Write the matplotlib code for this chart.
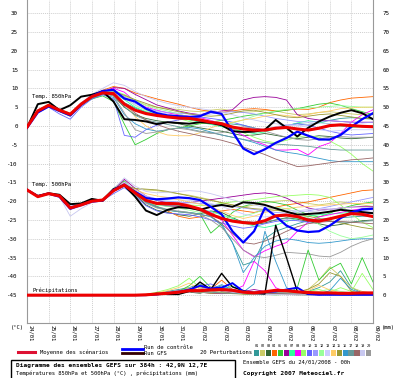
import numpy as np
import matplotlib
matplotlib.use("Agg")
import matplotlib.pyplot as plt
import matplotlib.transforms as mtransforms
from matplotlib.lines import Line2D
from matplotlib.patches import Rectangle

## echeances toutes les 12h, en jours depuis le 24/01 00h
days = np.arange(0, 16.5, 0.5)
date_labels = ["24/01", "25/01", "26/01", "27/01", "28/01", "29/01", "30/01", "31/01",
               "01/02", "02/02", "03/02", "04/02", "05/02", "06/02", "07/02", "08/02", "09/02"]
left_ticks = [30, 25, 20, 15, 10, 5, 0, -5, -10, -15, -20, -25, -30, -35, -40, -45]
right_ticks = [75, 70, 65, 60, 55, 50, 45, 40, 35, 30, 25, 20, 15, 10, 5, 0]

member_colors = ["#339999", "#cccc66", "#336633", "#ff6600", "#33cc33", "#990099", "#33ff99",
                 "#ff00ff", "#99ff66", "#6666ff", "#9999ff", "#99ff99", "#ccccff", "#ffcc66",
                 "#999933", "#3399cc", "#669999", "#996666", "#c8c8f0", "#999999"]

## moyenne, controle, GFS
mean_850 = [-0.3, 4.0, 5.5, 4.2, 3.1, 5.8, 7.8, 8.8, 8.6, 5.8, 4.2, 3.3, 2.8, 2.4, 2.1, 2.0, 1.6,
            1.0, 0.6, -0.3, -0.8, -1.1, -1.1, -0.6, -0.4, -0.8, -1.1, -0.6, 0.1, 0.3, 0.1, -0.1, -0.2]
ctrl_850 = [-0.5, 3.6, 5.2, 4.0, 2.8, 5.6, 7.9, 9.3, 9.6, 7.3, 6.5, 4.6, 3.4, 2.8, 2.6, 2.4, 2.6,
            3.8, 3.2, -1.5, -6.0, -7.5, -6.2, -4.5, -3.2, -1.5, -2.6, -3.6, -3.6, -2.4, -0.2, 1.8, 3.4]
gfs_850 = [-0.5, 5.8, 6.4, 4.2, 5.5, 7.8, 8.3, 9.2, 6.5, 1.8, 1.6, 1.2, 0.5, 1.0, 0.8, 0.6, 1.0,
           0.8, 0.2, -1.4, -1.6, -1.5, -1.0, 1.6, -0.5, -2.8, -0.5, 1.2, 2.5, 3.5, 4.2, 3.4, 1.8]

mean_500 = [-17.0, -18.8, -18.0, -18.6, -21.8, -21.0, -20.0, -19.7, -17.2, -15.7, -17.8, -19.8,
            -20.6, -20.6, -20.7, -21.3, -22.1, -23.5, -24.6, -25.3, -25.7, -25.9, -25.2, -23.9,
            -23.7, -24.1, -25.0, -25.3, -24.7, -24.0, -23.3, -23.5, -24.1]
ctrl_500 = [-17.0, -18.7, -18.0, -18.8, -22.0, -21.0, -20.1, -19.8, -17.0, -15.6, -17.5, -19.2,
            -19.5, -19.3, -19.0, -19.2, -19.7, -21.5, -23.5, -28.0, -31.0, -28.0, -21.8, -24.0,
            -26.5, -27.8, -28.2, -28.0, -26.5, -24.5, -23.0, -22.2, -22.0]
gfs_500 = [-17.0, -18.6, -17.9, -18.3, -20.8, -20.6, -19.4, -19.9, -16.8, -15.8, -18.8, -22.5,
           -23.7, -22.3, -21.6, -21.8, -22.3, -21.5, -21.0, -21.5, -20.3, -20.5, -21.0, -21.9,
           -22.8, -23.6, -23.4, -23.2, -22.8, -22.3, -22.6, -22.9, -23.2]

mean_rr = [0, 0, 0, 0, 0, 0, 0, 0, 0, 0, 0, 0.1, 0.3, 0.5, 0.8, 1.2, 1.2,
           1.4, 1.5, 1.3, 0.8, 0.6, 0.9, 1.3, 1.2, 0.9, 0.7, 0.6, 0.6, 0.5, 0.5, 0.6, 0.6]
ctrl_rr = [0, 0, 0, 0, 0, 0, 0, 0, 0, 0, 0, 0, 0.2, 0.5, 0.8, 1.5, 2.5,
           1.8, 2.0, 3.2, 1.0, 0.6, 0.8, 1.0, 1.5, 2.0, 0.3, 0.1, 0.1, 0.1, 0.1, 0.1, 0.1]
gfs_rr = [0, 0, 0, 0, 0, 0, 0, 0, 0, 0, 0, 0, 0.5, 0.2, 0.2, 1.0, 3.5,
          1.5, 5.8, 2.2, 1.2, 0.5, 0.3, 18.6, 10.0, 1.0, 0.3, 0.2, 0.3, 0.2, 0.2, 0.3, 0.3]

## 20 perturbations
t850_members = [
    [-0.4, 3.9, 5.4, 4.0, 3.0, 5.6, 7.6, 8.6, 8.4, 6.2, 4.8, 3.6, 3.0, 2.6, 2.2, 1.8, 1.4, 1.2, 0.8, 0.5, 0.2, -0.5, -1.2, -0.8, 0.2, 0.6, 0.4, 0.8, 1.5, 2.0, 2.2, 2.0, 1.8],
    [-0.2, 4.2, 5.8, 4.5, 3.4, 6.0, 8.0, 9.2, 9.6, 8.0, 6.8, 5.6, 5.0, 4.6, 4.4, 4.0, 3.8, 4.2, 4.5, 4.0, 3.6, 3.8, 4.2, 4.0, 3.4, 3.0, 3.2, 3.6, 3.8, 3.5, 3.2, 3.0, 3.0],
    [-0.3, 3.8, 5.3, 4.1, 3.0, 5.7, 7.9, 8.9, 8.0, 5.0, 3.0, 2.0, 1.4, 1.0, 0.6, 0.0, -0.5, -1.0, -1.4, -2.0, -2.6, -2.4, -2.0, -2.5, -3.0, -3.4, -3.0, -2.6, -2.8, -3.2, -3.4, -3.2, -3.0],
    [-0.3, 4.1, 5.6, 4.4, 3.3, 6.0, 8.2, 9.5, 10.5, 10.0, 8.8, 8.0, 7.2, 6.5, 5.8, 5.0, 4.3, 3.8, 3.6, 4.0, 4.4, 4.6, 4.4, 4.0, 4.2, 4.5, 4.4, 5.0, 6.2, 6.9, 7.4, 7.6, 7.8],
    [-0.2, 4.0, 5.5, 4.3, 3.2, 5.6, 7.2, 8.0, 6.5, 0.5, -5.0, -3.6, -2.0, -1.0, -0.5, 0.0, 0.6, 1.0, 1.5, 2.0, 2.6, 3.0, 3.4, 3.8, 4.2, 4.6, 5.2, 5.8, 6.1, 5.5, 4.6, 3.8, 3.0],
    [-0.4, 3.9, 5.4, 4.2, 3.0, 5.8, 7.8, 9.0, 10.2, 10.0, 8.4, 7.0, 5.6, 4.8, 4.0, 3.4, 3.0, 3.6, 4.0, 4.3, 6.9, 7.6, 7.8, 7.6, 6.9, 3.0, 2.0, 1.6, 1.4, 1.2, 1.0, 1.0, 1.0],
    [-0.3, 4.0, 5.5, 4.3, 3.1, 5.7, 7.7, 8.7, 8.9, 7.0, 5.0, 3.8, 3.2, 2.8, 2.2, 1.6, 1.0, 0.4, -0.2, -0.8, -1.5, -2.0, -1.6, -0.8, 0.0, 0.8, 1.4, 1.0, 0.5, 0.0, -0.4, -0.2, 0.0],
    [-0.3, 4.0, 5.4, 4.1, 3.0, 5.8, 7.9, 9.0, 10.0, 9.0, 6.5, 5.0, 4.2, 3.5, 3.0, 2.6, 2.2, 1.5, 0.5, -1.0, -2.5, -4.0, -5.0, -6.4, -6.4, -6.2, -7.7, -5.5, -4.5, -2.0, 1.0, 3.0, 4.3],
    [-0.2, 4.1, 5.6, 4.2, 3.2, 5.9, 8.0, 9.0, 9.2, 7.5, 5.5, 4.2, 3.4, 2.6, 2.0, 1.2, 0.6, 0.8, 0.2, -0.6, -1.8, -3.0, -4.0, -4.5, -3.8, -3.0, -2.5, -3.0, -4.0, -5.5, -7.5, -10.0, -12.0],
    [-0.6, 3.5, 5.0, 3.2, 1.8, 5.0, 7.2, 8.3, 7.2, -2.5, -3.0, -1.0, 0.2, 1.0, 1.6, 2.0, 2.4, 2.0, 1.6, 1.0, 0.2, -0.6, -1.0, -0.6, 0.2, 0.6, 0.2, -0.6, -1.4, -2.0, -2.4, -2.2, -2.0],
    [-0.3, 3.9, 5.4, 4.0, 2.9, 5.6, 7.7, 8.8, 9.0, 7.8, 6.0, 4.8, 4.0, 3.6, 3.4, 3.2, 3.0, 3.2, 3.6, 3.8, 3.6, 3.2, 2.6, 2.0, 1.6, 1.2, 1.0, 1.2, 1.4, 1.2, 1.0, 0.8, 1.0],
    [-0.3, 4.0, 5.5, 4.3, 3.2, 5.9, 7.9, 8.9, 9.4, 8.4, 6.8, 5.4, 4.6, 4.0, 3.2, 2.4, 1.6, 1.0, 0.6, 0.8, 1.6, 2.6, 3.4, 4.0, 4.4, 4.6, 4.8, 5.0, 5.2, 5.4, 5.2, 5.0, 5.0],
    [-0.3, 3.9, 5.4, 4.2, 3.1, 5.8, 7.8, 8.8, 8.8, 7.4, 5.6, 4.4, 3.8, 3.2, 2.6, 2.2, 1.8, 1.4, 0.8, 0.0, -0.8, -1.2, -0.8, -0.2, 0.4, 0.2, -0.4, -1.0, -1.4, -1.2, -1.0, -1.0, -1.0],
    [-0.3, 4.0, 5.5, 4.2, 3.0, 5.7, 7.8, 8.8, 8.6, 6.0, 2.5, 0.0, -1.5, -2.4, -2.6, -2.6, -1.8, -0.5, 0.4, 1.0, 1.6, 2.0, 2.6, 3.0, 2.8, 2.4, 3.0, 3.6, 4.0, 4.6, 4.8, 5.0, 5.0],
    [-0.4, 3.9, 5.4, 4.1, 3.0, 5.6, 7.6, 8.6, 9.0, 8.2, 7.0, 6.0, 5.0, 4.4, 3.8, 3.2, 2.8, 2.6, 2.8, 3.4, 4.0, 4.2, 3.6, 3.0, 2.4, 2.2, 2.6, 3.0, 3.2, 2.8, 2.4, 2.0, 2.0],
    [-0.5, 3.7, 5.2, 3.8, 2.6, 5.4, 7.4, 8.4, 7.6, 3.0, 0.6, -0.8, -1.4, -1.0, -0.6, -0.4, -0.8, -1.6, -2.4, -3.0, -3.6, -4.4, -5.4, -6.4, -7.0, -7.4, -8.0, -8.6, -9.2, -9.5, -9.5, -9.5, -9.5],
    [-0.3, 3.9, 5.4, 4.1, 3.0, 5.7, 7.7, 8.7, 8.2, 5.2, 2.8, 1.6, 1.0, 0.4, -0.2, -0.8, -1.4, -1.8, -2.4, -3.0, -3.6, -4.0, -4.4, -4.8, -5.0, -5.2, -5.4, -5.8, -6.2, -6.4, -6.4, -6.4, -6.4],
    [-0.3, 4.0, 5.5, 4.2, 3.1, 5.8, 7.8, 8.8, 8.4, 5.8, 3.4, 1.6, 0.4, -0.6, -1.4, -2.0, -2.6, -3.2, -3.8, -4.6, -5.6, -6.6, -7.6, -8.8, -9.8, -10.8, -10.6, -10.2, -9.8, -9.4, -9.0, -8.8, -8.5],
    [-0.3, 4.1, 5.6, 4.4, 3.3, 6.1, 8.4, 10.0, 11.5, 10.8, 9.2, 7.8, 6.8, 6.0, 5.4, 5.0, 4.6, 4.2, 3.6, 3.0, 2.2, 1.6, 1.0, 0.6, 0.2, 0.0, 0.4, 0.8, 0.6, 0.2, 0.0, 0.0, 0.0],
    [-0.4, 3.8, 5.3, 4.0, 2.9, 5.6, 7.6, 8.6, 8.0, 3.5, -1.0, -2.0, -1.6, -1.0, -0.6, -1.0, -1.6, -2.0, -1.8, -1.0, -0.2, -0.6, -1.4, -2.2, -3.0, -3.6, -3.8, -3.4, -3.0, -2.8, -3.0, -3.0, -3.0],
]

t500_members = [
    [-17.0, -18.7, -18.1, -18.5, -21.6, -21.2, -20.2, -19.6, -17.0, -15.4, -17.6, -19.8, -20.8, -21.4, -21.2, -21.6, -22.4, -24.0, -26.5, -31.0, -37.0, -36.0, -30.0, -28.0, -27.0, -26.0, -25.2, -24.8, -24.6, -24.4, -24.2, -24.0, -24.0],
    [-17.0, -18.9, -17.9, -18.6, -21.7, -20.8, -19.8, -19.6, -17.0, -15.8, -16.8, -17.0, -17.2, -17.6, -18.0, -18.4, -19.0, -19.6, -20.4, -21.0, -21.6, -21.0, -20.4, -20.0, -19.8, -20.2, -20.6, -21.0, -20.6, -20.2, -20.6, -21.0, -21.4],
    [-17.0, -18.8, -18.0, -18.7, -22.0, -21.2, -20.2, -19.8, -17.4, -16.0, -18.2, -21.0, -22.4, -23.0, -23.6, -24.0, -23.4, -22.6, -23.0, -24.4, -25.6, -26.2, -25.8, -25.0, -24.4, -24.8, -25.4, -26.0, -26.6, -26.2, -25.6, -25.2, -25.0],
    [-17.0, -18.8, -18.0, -18.6, -21.6, -20.8, -19.9, -19.6, -16.8, -15.0, -17.4, -19.6, -21.4, -22.6, -24.0, -24.6, -24.2, -23.4, -22.6, -22.2, -22.6, -23.0, -22.4, -21.6, -21.0, -20.6, -20.2, -19.6, -19.0, -18.4, -17.8, -17.2, -17.0],
    [-17.0, -18.7, -18.0, -18.5, -21.8, -21.0, -20.0, -19.5, -16.6, -14.6, -17.6, -20.2, -21.6, -22.4, -22.8, -23.0, -23.4, -28.5, -26.0, -23.0, -21.4, -20.6, -20.0, -20.4, -21.0, -22.4, -23.6, -24.2, -23.2, -22.0, -21.2, -20.6, -20.2],
    [-17.0, -18.8, -17.9, -18.5, -21.6, -20.8, -19.8, -19.6, -17.0, -14.2, -16.6, -18.6, -19.8, -20.4, -20.6, -20.4, -20.0, -19.6, -19.2, -18.8, -18.4, -18.0, -17.8, -18.2, -19.2, -20.6, -21.8, -22.4, -22.2, -21.8, -21.6, -21.4, -21.4],
    [-17.0, -18.8, -18.0, -18.6, -21.8, -21.0, -20.0, -19.6, -17.2, -15.4, -17.8, -20.0, -21.0, -21.2, -21.0, -21.4, -22.0, -22.8, -23.6, -24.6, -25.8, -26.6, -27.0, -26.4, -25.4, -24.6, -24.0, -23.6, -23.4, -23.2, -23.0, -23.0, -23.0],
    [-17.0, -18.9, -18.1, -18.7, -22.2, -21.2, -20.2, -19.8, -17.4, -15.0, -17.6, -19.8, -20.8, -21.2, -21.4, -21.6, -22.0, -23.0, -25.0, -29.0, -33.0, -34.8, -33.2, -32.0, -31.0, -28.0, -25.6, -24.2, -23.6, -23.0, -22.4, -22.0, -21.8],
    [-17.0, -18.8, -18.0, -18.6, -21.8, -21.0, -19.9, -19.6, -17.0, -15.6, -17.6, -19.6, -20.4, -20.6, -20.8, -21.0, -21.2, -21.0, -20.6, -20.2, -20.0, -19.6, -19.2, -18.8, -18.6, -18.4, -18.2, -18.4, -19.0, -21.0, -23.4, -25.6, -27.0],
    [-17.0, -18.6, -17.8, -18.4, -21.4, -20.8, -19.8, -19.8, -18.0, -16.4, -18.6, -21.2, -22.6, -23.2, -23.4, -23.6, -24.2, -25.0, -25.8, -26.6, -27.2, -26.8, -26.0, -25.4, -25.0, -25.2, -25.6, -25.2, -24.6, -24.0, -23.6, -23.4, -23.2],
    [-17.0, -18.8, -18.0, -18.6, -21.8, -21.0, -20.0, -19.8, -17.2, -15.2, -17.2, -19.0, -19.8, -20.0, -20.2, -20.4, -20.6, -20.8, -21.0, -21.4, -21.8, -22.2, -22.6, -23.0, -23.2, -23.0, -22.6, -22.0, -21.4, -20.8, -20.2, -19.6, -19.0],
    [-17.0, -18.8, -18.0, -18.6, -21.8, -21.0, -20.0, -19.7, -17.2, -15.6, -17.8, -20.2, -21.0, -21.4, -21.8, -22.4, -23.0, -23.6, -24.0, -24.4, -24.0, -23.2, -22.2, -21.6, -22.0, -23.0, -24.4, -26.2, -28.0, -29.2, -30.0, -29.6, -29.0],
    [-17.0, -18.8, -18.0, -18.6, -22.2, -21.4, -20.2, -19.8, -17.2, -15.0, -16.8, -18.6, -19.4, -19.6, -19.6, -19.8, -20.0, -20.6, -21.4, -22.4, -23.4, -24.0, -24.2, -23.8, -23.2, -22.6, -22.2, -22.0, -22.0, -22.2, -22.4, -22.6, -22.6],
    [-17.0, -18.8, -18.0, -18.6, -21.8, -21.0, -20.0, -19.6, -17.0, -15.4, -17.0, -18.0, -18.6, -19.0, -19.6, -20.2, -20.8, -21.6, -22.6, -23.8, -24.6, -24.0, -23.0, -22.4, -22.0, -21.6, -21.4, -21.2, -21.0, -20.8, -20.6, -20.6, -20.6],
    [-17.0, -18.8, -18.0, -18.6, -21.8, -21.0, -20.0, -19.7, -17.2, -15.8, -16.6, -16.8, -17.0, -17.4, -18.0, -18.6, -19.2, -19.8, -20.4, -21.0, -21.6, -22.0, -22.2, -22.4, -22.8, -23.4, -24.0, -24.6, -25.2, -25.8, -26.4, -27.0, -27.4],
    [-17.0, -18.8, -18.0, -18.6, -21.8, -21.0, -20.0, -19.8, -17.4, -16.0, -18.0, -20.4, -21.6, -22.4, -22.8, -23.0, -23.4, -24.2, -26.0, -31.0, -39.0, -35.0, -32.0, -30.6, -30.0, -30.4, -31.0, -31.2, -31.0, -30.6, -30.2, -30.0, -30.0],
    [-17.0, -18.8, -18.0, -18.6, -21.8, -21.0, -20.0, -19.7, -17.2, -15.6, -17.8, -20.2, -21.4, -22.2, -22.8, -23.2, -23.6, -24.0, -24.4, -25.0, -25.4, -25.6, -25.4, -25.0, -24.6, -24.4, -24.6, -25.0, -25.4, -25.6, -25.6, -25.4, -25.2],
    [-17.0, -18.8, -18.0, -18.6, -21.8, -21.0, -20.0, -19.6, -17.0, -15.6, -17.6, -19.8, -20.8, -21.2, -21.4, -21.8, -22.6, -24.0, -26.0, -28.6, -31.0, -31.4, -30.6, -29.4, -28.0, -26.8, -26.0, -25.6, -25.4, -25.4, -25.6, -25.8, -26.0],
    [-17.0, -18.9, -18.1, -18.8, -24.0, -22.0, -20.4, -20.0, -16.8, -13.8, -16.0, -17.4, -17.8, -17.6, -17.4, -17.2, -17.4, -18.0, -18.8, -19.6, -20.4, -21.0, -21.6, -22.0, -22.4, -22.6, -22.8, -22.6, -22.2, -21.8, -21.6, -21.6, -21.6],
    [-17.0, -18.8, -18.0, -18.6, -21.8, -21.0, -20.0, -19.7, -17.2, -15.6, -18.0, -20.6, -21.8, -22.4, -22.6, -23.0, -23.6, -25.0, -27.0, -30.0, -33.0, -34.6, -35.0, -34.4, -33.6, -33.8, -34.0, -34.6, -34.8, -33.6, -32.0, -30.8, -30.0],
]

rr_members = [
    [0, 0, 0, 0, 0, 0, 0, 0, 0, 0, 0, 0.2, 0.5, 1.0, 1.5, 2.0, 3.0, 1.5, 2.5, 1.0, 0.8, 0.5, 0.6, 1.2, 0.8, 0.4, 1.0, 2.0, 3.5, 6.5, 2.0, 0.6, 0.4],
    [0, 0, 0, 0, 0, 0, 0, 0, 0, 0, 0, 0.0, 0.3, 0.8, 1.2, 2.0, 1.0, 0.6, 1.0, 0.5, 0.3, 0.2, 0.4, 0.8, 0.5, 0.3, 1.5, 4.0, 7.5, 5.0, 2.0, 1.0, 0.5],
    [0, 0, 0, 0, 0, 0, 0, 0, 0, 0, 0, 0.1, 0.4, 0.6, 1.0, 0.8, 0.5, 1.5, 1.0, 0.6, 0.4, 0.3, 0.5, 0.4, 0.2, 0.1, 0.1, 0.2, 0.3, 0.2, 0.1, 0.1, 0.1],
    [0, 0, 0, 0, 0, 0, 0, 0, 0, 0, 0, 0.0, 0.2, 0.5, 0.8, 1.4, 2.2, 1.6, 4.0, 1.5, 0.8, 0.6, 0.4, 0.3, 0.6, 0.4, 0.2, 0.2, 0.4, 0.3, 0.2, 0.2, 0.2],
    [0, 0, 0, 0, 0, 0, 0, 0, 0, 0, 0, 0.0, 0.2, 0.6, 1.0, 2.5, 5.0, 2.0, 1.0, 0.6, 0.4, 0.3, 0.2, 0.1, 0.2, 2.0, 12.0, 4.0, 7.0, 8.5, 3.0, 10.0, 3.5],
    [0, 0, 0, 0, 0, 0, 0, 0, 0, 0, 0, 0.0, 0.1, 0.3, 0.6, 1.0, 0.8, 0.5, 0.4, 0.6, 1.0, 1.5, 1.0, 0.6, 0.4, 0.2, 0.2, 0.1, 0.2, 0.3, 0.2, 0.1, 0.1],
    [0, 0, 0, 0, 0, 0, 0, 0, 0, 0, 0, 0.1, 0.3, 0.6, 1.0, 1.6, 1.2, 0.8, 1.6, 2.4, 1.0, 0.6, 0.5, 0.6, 0.4, 0.3, 0.2, 0.4, 0.6, 0.3, 0.2, 0.2, 0.2],
    [0, 0, 0, 0, 0, 0, 0, 0, 0, 0, 0, 0.0, 0.2, 0.5, 0.8, 1.2, 1.6, 1.0, 2.0, 1.2, 2.5, 9.0, 6.5, 2.0, 0.8, 0.4, 0.3, 0.2, 0.2, 0.4, 0.3, 0.2, 0.2],
    [0, 0, 0, 0, 0, 0, 0, 0, 0, 0, 0, 0.2, 0.8, 1.5, 2.5, 4.5, 2.0, 1.0, 0.8, 0.5, 0.4, 0.6, 0.8, 0.5, 0.3, 0.6, 1.0, 1.5, 0.8, 2.0, 1.0, 5.8, 1.5],
    [0, 0, 0, 0, 0, 0, 0, 0, 0, 0, 0, 0.0, 0.3, 0.8, 1.2, 1.6, 2.4, 3.0, 1.6, 0.8, 0.4, 0.3, 0.2, 0.2, 0.3, 0.2, 0.1, 0.1, 0.2, 0.2, 0.1, 0.1, 0.1],
    [0, 0, 0, 0, 0, 0, 0, 0, 0, 0, 0, 0.1, 0.2, 0.4, 0.6, 1.0, 1.4, 0.8, 1.2, 0.8, 0.6, 0.4, 0.6, 0.8, 0.5, 0.3, 0.2, 0.3, 0.5, 0.4, 0.3, 0.6, 0.4],
    [0, 0, 0, 0, 0, 0, 0, 0, 0, 0, 0, 0.0, 0.2, 0.4, 0.8, 1.4, 0.8, 0.6, 1.0, 0.6, 0.4, 0.5, 0.8, 1.2, 0.8, 0.5, 0.6, 1.0, 1.6, 1.0, 0.6, 0.4, 0.4],
    [0, 0, 0, 0, 0, 0, 0, 0, 0, 0, 0, 0.1, 0.3, 0.6, 0.8, 1.0, 1.2, 1.4, 1.0, 0.6, 0.4, 0.4, 0.3, 0.2, 0.2, 0.3, 0.2, 0.1, 0.1, 0.2, 0.2, 0.1, 0.1],
    [0, 0, 0, 0, 0, 0, 0, 0, 0, 0, 0, 0.2, 0.6, 1.2, 2.0, 3.2, 1.6, 1.0, 0.8, 1.4, 0.8, 0.5, 0.4, 0.3, 0.2, 0.5, 1.2, 2.6, 1.4, 0.6, 0.4, 0.3, 0.2],
    [0, 0, 0, 0, 0, 0, 0, 0, 0, 0, 0, 0.0, 0.1, 0.4, 0.8, 1.2, 0.8, 0.5, 0.6, 0.4, 0.3, 0.2, 0.4, 0.6, 0.5, 0.8, 1.6, 3.0, 6.0, 5.0, 1.0, 0.6, 0.4],
    [0, 0, 0, 0, 0, 0, 0, 0, 0, 0, 0, 0.1, 0.3, 0.6, 1.0, 1.4, 1.0, 1.6, 2.8, 1.4, 0.8, 3.0, 17.0, 9.0, 2.0, 0.6, 0.4, 0.3, 1.2, 4.5, 1.5, 0.5, 0.3],
    [0, 0, 0, 0, 0, 0, 0, 0, 0, 0, 0, 0.0, 0.2, 0.4, 0.6, 0.9, 1.2, 0.8, 0.6, 0.5, 0.4, 0.3, 0.4, 0.5, 0.4, 0.3, 0.2, 0.2, 0.3, 0.2, 0.2, 0.2, 0.2],
    [0, 0, 0, 0, 0, 0, 0, 0, 0, 0, 0, 0.1, 0.2, 0.5, 0.8, 1.2, 1.6, 2.2, 1.0, 0.6, 0.8, 1.0, 0.6, 0.4, 0.3, 0.2, 0.2, 0.2, 0.1, 0.1, 0.1, 0.1, 0.1],
    [0, 0, 0, 0, 0, 0, 0, 0, 0, 0, 0, 0.0, 0.1, 0.3, 0.5, 0.8, 1.6, 2.0, 1.2, 0.8, 0.5, 0.3, 0.2, 0.2, 0.1, 0.1, 0.2, 0.3, 0.2, 0.1, 0.1, 0.1, 0.1],
    [0, 0, 0, 0, 0, 0, 0, 0, 0, 0, 0, 0.1, 0.3, 0.5, 0.8, 1.0, 0.6, 0.8, 1.4, 1.0, 0.6, 0.4, 0.6, 0.8, 0.6, 0.4, 0.3, 0.2, 0.2, 0.1, 0.1, 0.1, 0.1],
]

W, H = 400, 378


def fx(x):
    return x / W


def fy(y):
    return 1 - y / H


def main():
    plt.rcParams['font.family'] = 'DejaVu Sans Mono'
    plt.rcParams['font.size'] = 4

    fig = plt.figure(figsize=(4.0, 3.78), dpi=100, facecolor='w')
    ax = fig.add_axes([fx(27), fy(323), fx(373) - fx(27), fy(0) - fy(323)])

    ylim = (-52.4, 33.5)
    ax.set_xlim(0, 16)
    ax.set_ylim(*ylim)

    ax.grid(True, color='#cfcfcf', linestyle=(0, (1, 1)), linewidth=0.7)
    ax.set_axisbelow(True)
    for side in ['left', 'right', 'bottom']:
        ax.spines[side].set_color('#999999')
        ax.spines[side].set_linewidth(0.8)
    ax.spines['top'].set_visible(False)

    ax.set_yticks(left_ticks)
    ax.set_yticklabels([str(v) for v in left_ticks])
    ax.tick_params(axis='y', length=0, pad=6.5, labelsize=4.2)
    ax.set_xticks(range(len(date_labels)))
    ax.set_xticklabels(date_labels)
    ax.tick_params(axis='x', length=0, pad=1.5, labelsize=4.0, labelrotation=-90)
    offset = mtransforms.ScaledTranslation(3.5 / 100, 0, fig.dpi_scale_trans)
    for lab in ax.get_xticklabels():
        lab.set_transform(lab.get_transform() + offset)

    ## temperatures
    for i in range(20):
        ax.plot(days, t850_members[i], color=member_colors[i], lw=0.6, zorder=2)
        ax.plot(days, t500_members[i], color=member_colors[i], lw=0.6, zorder=2)
    for serie in [gfs_850, gfs_500]:
        ax.plot(days, serie, color='black', lw=1.4, zorder=3)
    for serie in [ctrl_850, ctrl_500]:
        ax.plot(days, serie, color='#0000ff', lw=1.6, zorder=4)
    for serie in [mean_850, mean_500]:
        ax.plot(days, serie, color='#ee0000', lw=2.2, zorder=5)

    ## precipitations (axe de droite)
    ax2 = ax.twinx()
    ax2.set_ylim(ylim[0] + 45, ylim[1] + 45)
    ax2.set_yticks(right_ticks)
    ax2.set_yticklabels([str(v) for v in right_ticks])
    ax2.tick_params(axis='y', length=0, pad=7, labelsize=4.2)
    for side in ['left', 'right', 'bottom', 'top']:
        ax2.spines[side].set_visible(False)
    for i in range(20):
        ax2.plot(days, rr_members[i], color=member_colors[i], lw=0.6, zorder=2)
    ax2.plot(days, gfs_rr, color='black', lw=1.0, zorder=3)
    ax2.plot(days, ctrl_rr, color='#0000ff', lw=1.4, zorder=4)
    ax2.plot(days, mean_rr, color='#ee0000', lw=2.2, zorder=5)

    ax.text(0.25, 7.9, "Temp. 850hPa", fontsize=4, va='center', zorder=6)
    ax.text(0.25, -15.5, "Temp. 500hPa", fontsize=4, va='center', zorder=6)
    ax.text(0.25, -43.8, "Précipitations", fontsize=4, va='center', zorder=6)

    fig.text(fx(17), fy(327), "(°C)", ha='center', va='center', fontsize=4)
    fig.text(fx(388), fy(327), "(mm)", ha='center', va='center', fontsize=4)

    ## legende
    fig.add_artist(Line2D([fx(18), fx(35)], [fy(352), fy(352)], color='#dd1133', lw=2.2))
    fig.text(fx(40), fy(352), "Moyenne des scénarios", va='center', fontsize=4)
    fig.add_artist(Line2D([fx(122), fx(143)], [fy(348.5), fy(348.5)], color='#0000ff', lw=2))
    fig.add_artist(Line2D([fx(122), fx(143)], [fy(353), fy(353)], color='#330000', lw=2))
    fig.text(fx(144), fy(347.5), "Run de contrôle", va='center', fontsize=4)
    fig.text(fx(144), fy(353.5), "Run GFS", va='center', fontsize=4)
    fig.text(fx(200), fy(352), "20 Perturbations", va='center', fontsize=4)
    for i in range(20):
        x0 = 254 + i * 5.9
        fig.add_artist(Rectangle((fx(x0), fy(356)), fx(5.2), 6 / H, facecolor=member_colors[i],
                                 edgecolor='none', transform=fig.transFigure))
        fig.text(fx(x0 + 2.6), fy(346), f"{i + 1:02d}", ha='center', va='center', fontsize=2.6)

    fig.add_artist(Rectangle((fx(11), fy(379)), fx(224), 19 / H, facecolor='none',
                             edgecolor='black', lw=1, transform=fig.transFigure))
    fig.text(fx(16), fy(365.5), "Diagramme des ensembles GEFS sur 384h : 42,9N 12,7E",
             va='center', fontsize=4.4, fontweight='bold')
    fig.text(fx(16), fy(373), "Températures 850hPa et 500hPa (°C) , précipitations (mm)",
             va='center', fontsize=4)
    fig.text(fx(243), fy(362), "Ensemble GEFS du 24/01/2008 - 00h", va='center', fontsize=4)
    fig.text(fx(243), fy(373), "Copyright 2007 Meteociel.fr", va='center', fontsize=4.4,
             fontweight='bold')

    fig.savefig("out.png", dpi=100, facecolor='w')
    plt.close(fig)


if __name__ == "__main__":
    main()
